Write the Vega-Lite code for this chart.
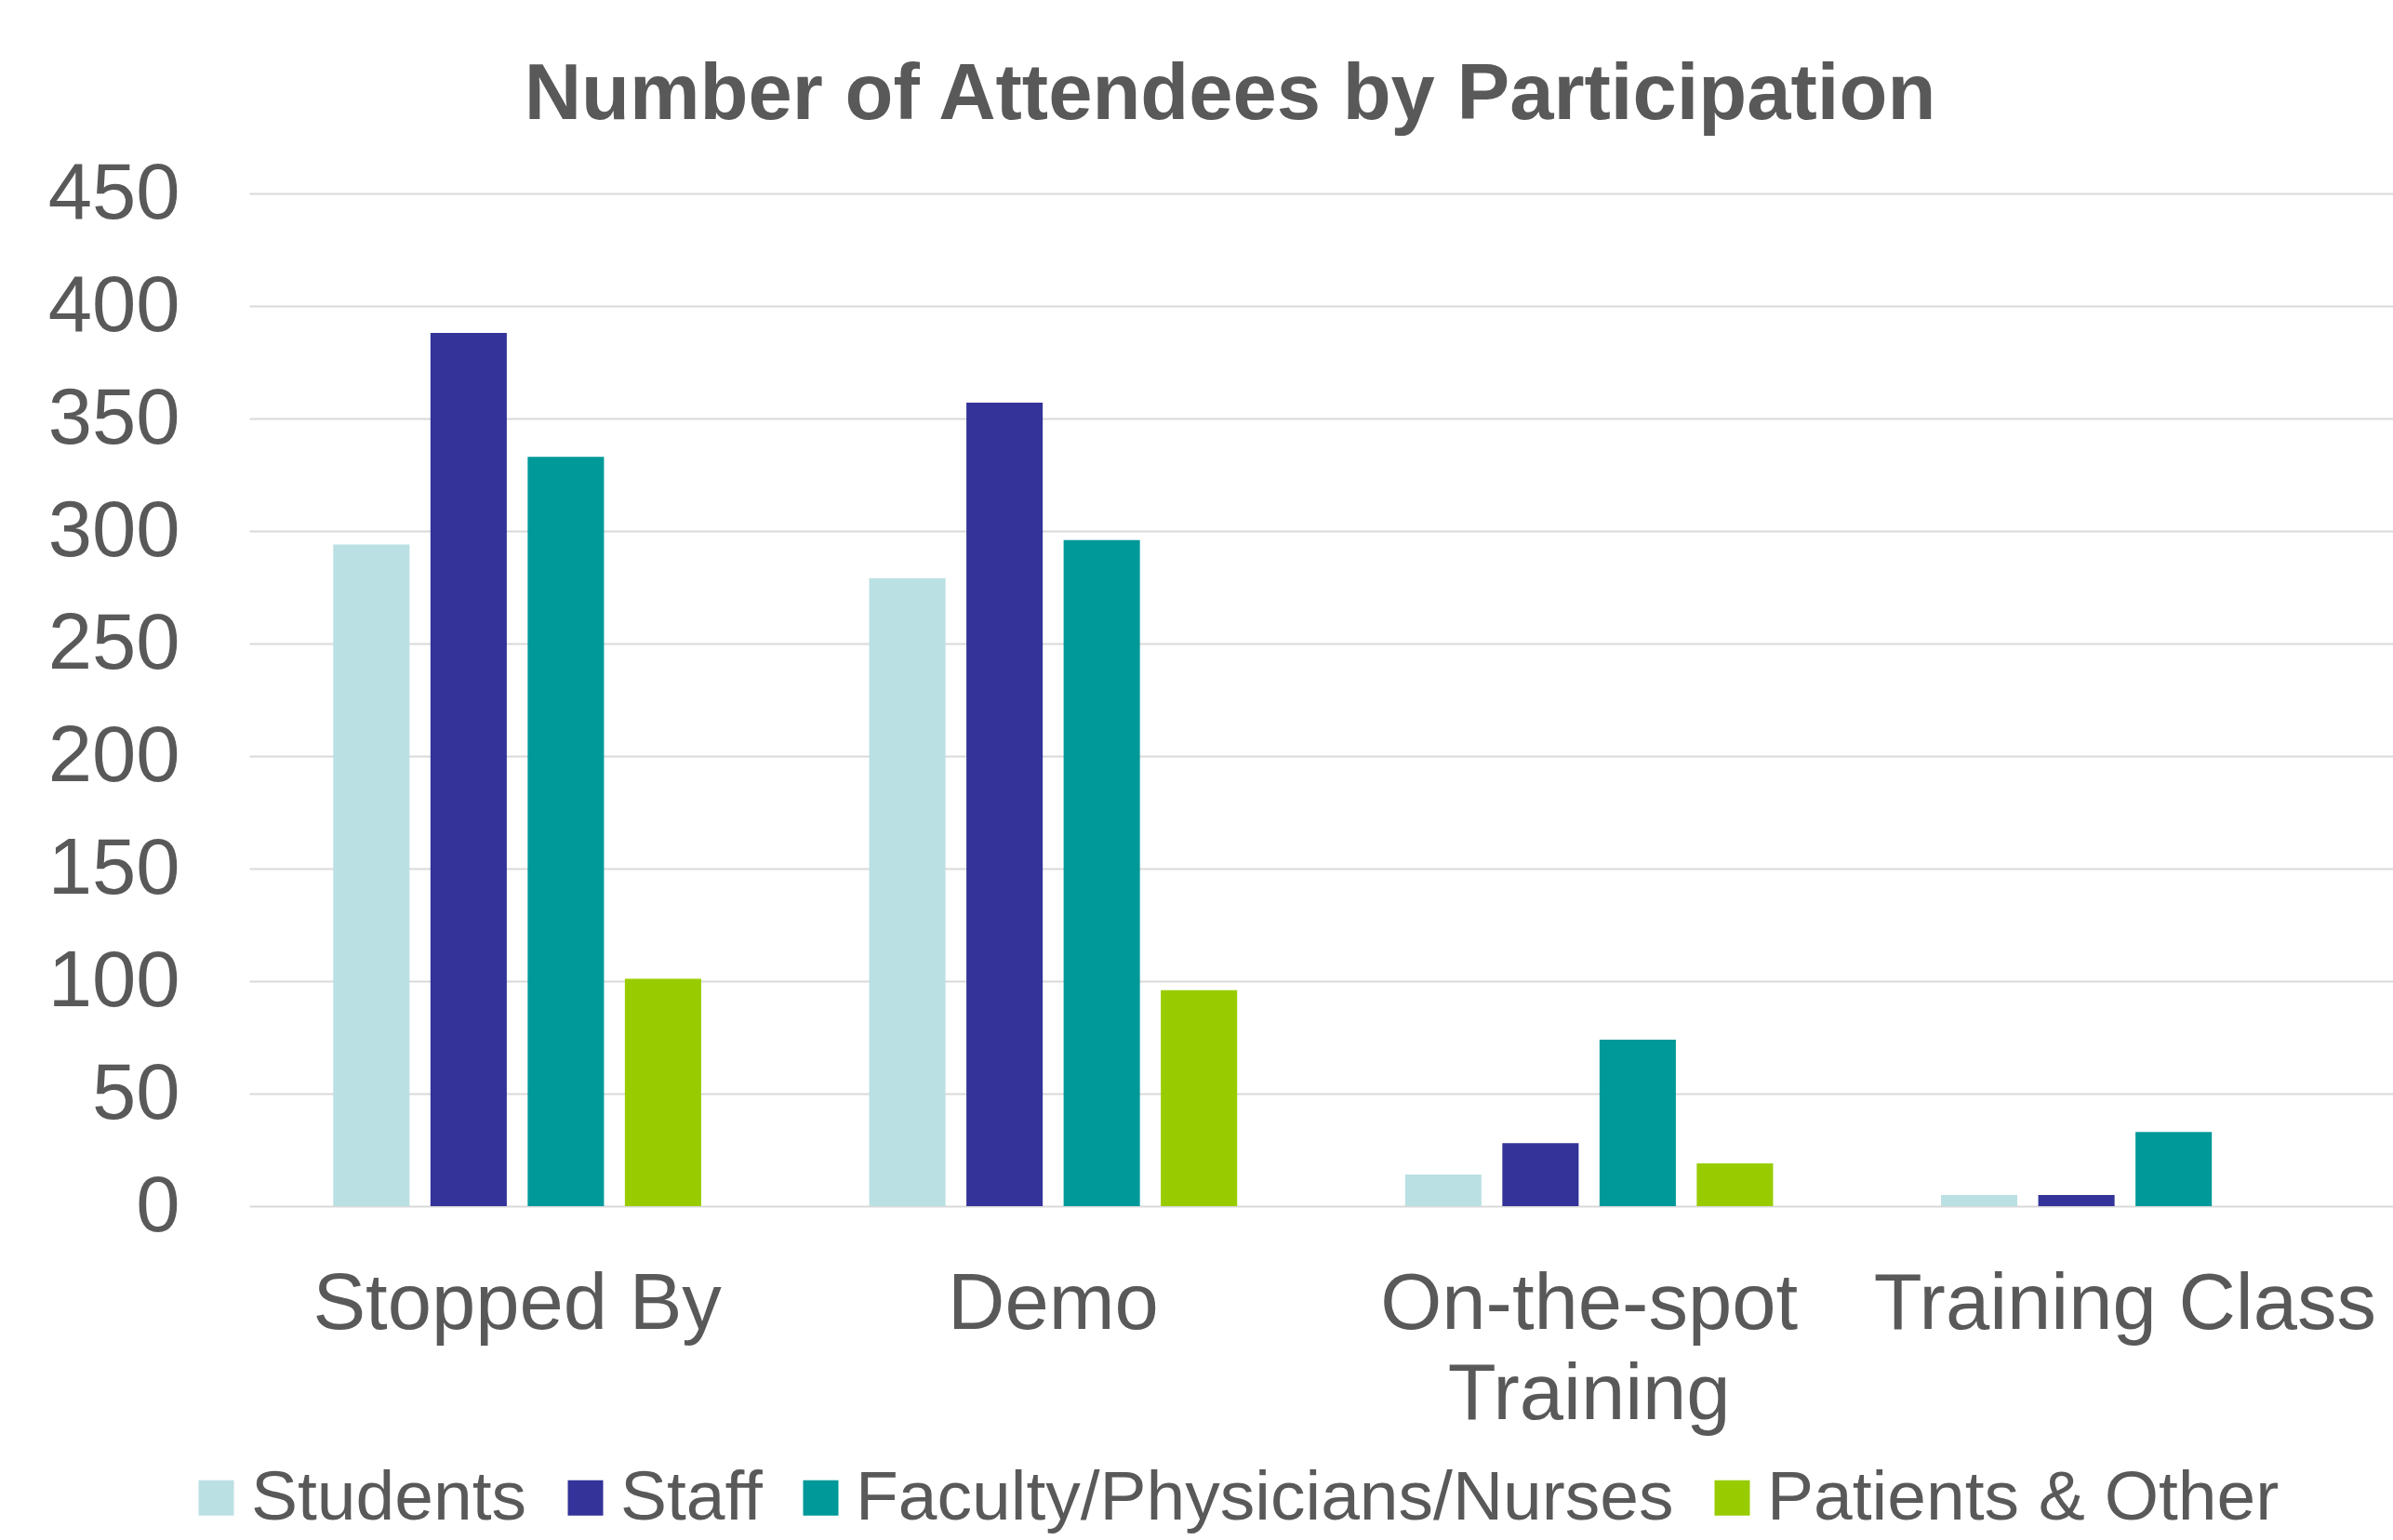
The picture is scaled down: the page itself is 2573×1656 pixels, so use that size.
{
  "$schema": "https://vega.github.io/schema/vega-lite/v6.json",
  "autosize": {"type": "none"},
  "width": 2305,
  "height": 1089,
  "padding": {"left": 268, "top": 208, "right": 0, "bottom": 359},
  "background": "white",
  "title": {
    "text": "Number of Attendees by Participation",
    "font": "Liberation Sans",
    "fontSize": 85,
    "fontWeight": "bold",
    "color": "#595959",
    "anchor": "middle",
    "frame": "group",
    "dx": -98,
    "offset": 20
  },
  "data": {
    "values": [
      {"category": "Stopped By", "group": "Students", "value": 294},
      {"category": "Stopped By", "group": "Staff", "value": 388},
      {"category": "Stopped By", "group": "Faculty/Physicians/Nurses", "value": 333},
      {"category": "Stopped By", "group": "Patients & Other", "value": 101},
      {"category": "Demo", "group": "Students", "value": 279},
      {"category": "Demo", "group": "Staff", "value": 357},
      {"category": "Demo", "group": "Faculty/Physicians/Nurses", "value": 296},
      {"category": "Demo", "group": "Patients & Other", "value": 96},
      {"category": "On-the-spot Training", "group": "Students", "value": 14},
      {"category": "On-the-spot Training", "group": "Staff", "value": 28},
      {"category": "On-the-spot Training", "group": "Faculty/Physicians/Nurses", "value": 74},
      {"category": "On-the-spot Training", "group": "Patients & Other", "value": 19},
      {"category": "Training Class", "group": "Students", "value": 5},
      {"category": "Training Class", "group": "Staff", "value": 5},
      {"category": "Training Class", "group": "Faculty/Physicians/Nurses", "value": 33},
      {"category": "Training Class", "group": "Patients & Other", "value": 0}
    ]
  },
  "mark": {"type": "bar"},
  "encoding": {
    "x": {
      "field": "category",
      "type": "nominal",
      "sort": ["Stopped By", "Demo", "On-the-spot Training", "Training Class"],
      "scale": {"paddingInner": 0, "paddingOuter": 0},
      "axis": {
        "title": null,
        "domain": false,
        "ticks": false,
        "tickSize": 0,
        "labelAngle": 0,
        "labelFont": "Liberation Sans",
        "labelFontSize": 85,
        "labelColor": "#595959",
        "labelBaseline": "alphabetic",
        "labelPadding": 131,
        "labelLineHeight": 97,
        "labelLimit": 0,
        "labelExpr": "datum.label == 'On-the-spot Training' ? ['On-the-spot', 'Training'] : datum.label"
      }
    },
    "xOffset": {
      "field": "group",
      "type": "nominal",
      "sort": ["Students", "Staff", "Faculty/Physicians/Nurses", "Patients & Other"],
      "scale": {"paddingInner": 0.215, "paddingOuter": 0.864}
    },
    "y": {
      "field": "value",
      "type": "quantitative",
      "scale": {"domain": [0, 450], "nice": false},
      "axis": {
        "title": null,
        "domain": false,
        "ticks": false,
        "tickSize": 0,
        "values": [0, 50, 100, 150, 200, 250, 300, 350, 400, 450],
        "labelFont": "Liberation Sans",
        "labelFontSize": 85,
        "labelColor": "#595959",
        "labelPadding": 75,
        "grid": true,
        "gridColor": "#D9D9D9",
        "gridWidth": 2
      }
    },
    "color": {
      "field": "group",
      "type": "nominal",
      "sort": ["Students", "Staff", "Faculty/Physicians/Nurses", "Patients & Other"],
      "scale": {
        "domain": ["Students", "Staff", "Faculty/Physicians/Nurses", "Patients & Other"],
        "range": ["#BBE0E3", "#333399", "#009999", "#99CC00"]
      },
      "legend": {
        "title": null,
        "orient": "none",
        "direction": "horizontal",
        "legendX": -73,
        "legendY": 1365,
        "padding": 0,
        "symbolType": "square",
        "symbolSize": 1444,
        "symbolStrokeWidth": 0,
        "symbolOpacity": 1,
        "labelFont": "Liberation Sans",
        "labelFontSize": 75,
        "labelColor": "#595959",
        "labelOffset": 0,
        "columnPadding": 25,
        "labelLimit": 0
      }
    }
  },
  "config": {
    "view": {"stroke": null}
  }
}
